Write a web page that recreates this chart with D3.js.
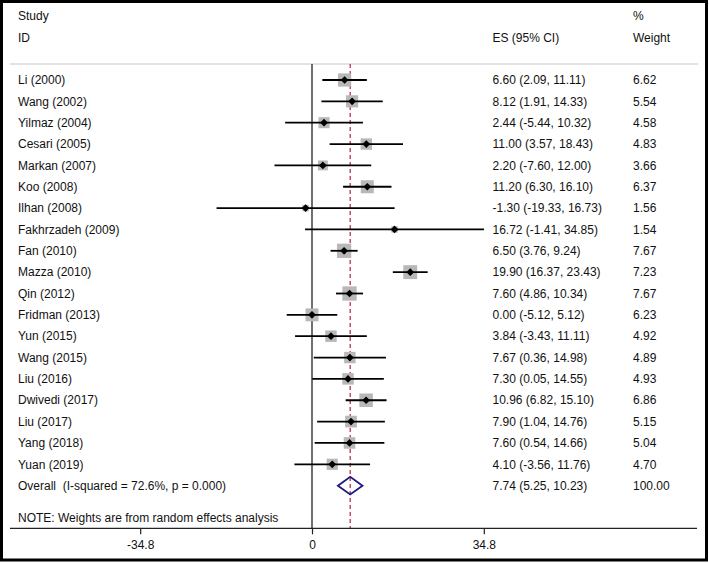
<!DOCTYPE html>
<html>
<head>
<meta charset="utf-8">
<script src="https://cdn.jsdelivr.net/npm/d3@7"></script>
<style>
html,body{margin:0;padding:0;background:#fff;}
svg text{font-family:"Liberation Sans",Arial,sans-serif;font-size:12px;fill:#111;}
</style>
</head>
<body>
<svg id="chart" width="709" height="563"></svg>
<script>
const studies = ["Li (2000)","Wang (2002)","Yilmaz (2004)","Cesari (2005)","Markan (2007)","Koo (2008)","Ilhan (2008)","Fakhrzadeh (2009)","Fan (2010)","Mazza (2010)","Qin (2012)","Fridman (2013)","Yun (2015)","Wang (2015)","Liu (2016)","Dwivedi (2017)","Liu (2017)","Yang (2018)","Yuan (2019)"];
const es    = [6.60, 8.12, 2.44, 11.00, 2.20, 11.20, -1.30, 16.72, 6.50, 19.90, 7.60, 0.00, 3.84, 7.67, 7.30, 10.96, 7.90, 7.60, 4.10];
const lower = [2.09, 1.91, -5.44, 3.57, -7.60, 6.30, -19.33, -1.41, 3.76, 16.37, 4.86, -5.12, -3.43, 0.36, 0.05, 6.82, 1.04, 0.54, -3.56];
const upper = [11.11, 14.33, 10.32, 18.43, 12.00, 16.10, 16.73, 34.85, 9.24, 23.43, 10.34, 5.12, 11.11, 14.98, 14.55, 15.10, 14.76, 14.66, 11.76];
const weight = [6.62, 5.54, 4.58, 4.83, 3.66, 6.37, 1.56, 1.54, 7.67, 7.23, 7.67, 6.23, 4.92, 4.89, 4.93, 6.86, 5.15, 5.04, 4.70];
const overall = {label:"Overall  (I-squared = 72.6%, p = 0.000)", es:7.74, lower:5.25, upper:10.23, weight:"100.00"};
const tickValues = [-34.8, 0, 34.8];
const tickLabels = ["-34.8", "0", "34.8"];
const note = "NOTE: Weights are from random effects analysis";

const svg = d3.select("#chart");
const fmt = v => d3.format(".2f")(v).replace("\u2212", "-");

const x = d3.scaleLinear().domain([0, 34.8]).range([312, 483.8]);
const y = d3.scaleLinear().domain([0, 1]).range([80, 101.35]);
const boxSize = d3.scaleSqrt().domain([0, 7.67]).range([0, 14.3]);

const xLeft = 10, xRight = 697;
const textX = 18, esX = 492.5, wX = 633;

// outer frame
svg.append("rect").attr("x",1.5).attr("y",1.5).attr("width",705).attr("height",558.5)
  .attr("fill","none").attr("stroke","#000").attr("stroke-width",3);

// headers
svg.append("text").attr("x",textX).attr("y",y(-3)).attr("dy","0.35em").text("Study");
svg.append("text").attr("x",textX).attr("y",y(-1.98)).attr("dy","0.35em").text("ID");
svg.append("text").attr("x",esX).attr("y",y(-1.98)).attr("dy","0.35em").text("ES (95% CI)");
svg.append("text").attr("x",wX).attr("y",y(-3)).attr("dy","0.35em").text("%");
svg.append("text").attr("x",wX).attr("y",y(-1.98)).attr("dy","0.35em").text("Weight");

// separator
svg.append("line").attr("x1",xLeft).attr("x2",698).attr("y1",y(-0.75)).attr("y2",y(-0.75))
  .attr("stroke","#c8c8c8").attr("stroke-width",1.2);

// zero line
svg.append("line").attr("x1",x(0)).attr("x2",x(0)).attr("y1",y(-0.75)).attr("y2",y(21))
  .attr("stroke","#333").attr("stroke-width",1.4);

// overall dashed line
svg.append("line").attr("x1",x(overall.es)).attr("x2",x(overall.es)).attr("y1",y(-0.75)).attr("y2",y(21))
  .attr("stroke","#c0314f").attr("stroke-width",1.3).attr("stroke-dasharray","4,3");

const rows = studies.map((s,i)=>({study:s, es:es[i], lo:lower[i], hi:upper[i], w:weight[i], i}));

const g = svg.append("g");
// boxes
g.selectAll("rect.box").data(rows).join("rect").attr("class","box")
  .attr("x",d=>x(d.es)-boxSize(d.w)/2).attr("y",d=>y(d.i)-boxSize(d.w)/2)
  .attr("width",d=>boxSize(d.w)).attr("height",d=>boxSize(d.w))
  .attr("fill","#b8b8b8");
// CI lines
g.selectAll("line.ci").data(rows).join("line").attr("class","ci")
  .attr("x1",d=>x(d.lo)).attr("x2",d=>x(d.hi)).attr("y1",d=>y(d.i)).attr("y2",d=>y(d.i))
  .attr("stroke","#000").attr("stroke-width",1.8);
// point markers
g.selectAll("path.pt").data(rows).join("path").attr("class","pt")
  .attr("d",d3.symbol().type(d3.symbolSquare).size(30))
  .attr("transform",d=>`translate(${x(d.es)},${y(d.i)}) rotate(45)`).attr("fill","#000");

// texts
g.selectAll("text.study").data(rows).join("text").attr("class","study")
  .attr("x",textX).attr("y",d=>y(d.i)).attr("dy","0.35em").text(d=>d.study);
g.selectAll("text.es").data(rows).join("text").attr("class","es")
  .attr("x",esX).attr("y",d=>y(d.i)).attr("dy","0.35em")
  .text(d=>`${fmt(d.es)} (${fmt(d.lo)}, ${fmt(d.hi)})`);
g.selectAll("text.w").data(rows).join("text").attr("class","w")
  .attr("x",wX).attr("y",d=>y(d.i)).attr("dy","0.35em").text(d=>fmt(d.w));

// overall
const oy = y(studies.length);
svg.append("path")
  .attr("d",`M${x(overall.lower)},${oy}L${x(overall.es)},${oy-8.8}L${x(overall.upper)},${oy}L${x(overall.es)},${oy+8.8}Z`)
  .attr("fill","none").attr("stroke","#1a1a80").attr("stroke-width",1.8);
svg.append("text").attr("x",textX).attr("y",oy).attr("dy","0.35em").style("white-space","pre").text(overall.label);
svg.append("text").attr("x",esX).attr("y",oy).attr("dy","0.35em")
  .text(`${fmt(overall.es)} (${fmt(overall.lower)}, ${fmt(overall.upper)})`);
svg.append("text").attr("x",wX).attr("y",oy).attr("dy","0.35em").text(overall.weight);

// note
svg.append("text").attr("x",textX).attr("y",y(20.5)).attr("dy","0.35em").text(note);

// axis
const axisY = y(21);
svg.append("line").attr("x1",xLeft).attr("x2",xRight).attr("y1",axisY).attr("y2",axisY)
  .attr("stroke","#222").attr("stroke-width",1.4);
const axis = svg.append("g").attr("transform",`translate(0,${axisY})`)
  .call(d3.axisBottom(x).tickValues(tickValues).tickSize(6).tickPadding(6)
    .tickFormat((d,i)=>tickLabels[i]));
axis.select(".domain").remove();
axis.selectAll("line").attr("stroke","#222").attr("stroke-width",1.2);
axis.selectAll("text").attr("font-size",null).attr("font-family",null).style("font-size","12px").style("fill","#111");
</script>
</body>
</html>
